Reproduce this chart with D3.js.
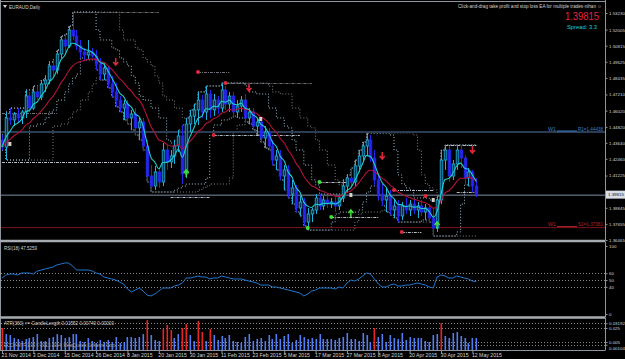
<!DOCTYPE html>
<html>
<head>
<meta charset="utf-8">
<script src="https://cdn.jsdelivr.net/npm/d3@7"></script>
<style>
  html, body { margin: 0; padding: 0; background: #000; overflow: hidden; }
  svg { display: block; font-family: "Liberation Sans", "DejaVu Sans", sans-serif; }
</style>
</head>
<body>
<div id="chart"></div>
<script>
// ---- data ----
const dateLabels = ["21 Nov 2014", "3 Dec 2014", "15 Dec 2014", "26 Dec 2014", "8 Jan 2015", "20 Jan 2015",
  "30 Jan 2015", "11 Feb 2015", "23 Feb 2015", "5 Mar 2015", "17 Mar 2015", "27 Mar 2015",
  "8 Apr 2015", "20 Apr 2015", "30 Apr 2015", "12 May 2015"];
const barsPerLabel = 8;

const opens = [
  1.4385,1.4333,1.4548,1.4533,1.4577,1.4548,1.4592,1.4710,1.4621,1.4740,
  1.4703,1.4799,1.4828,1.4932,1.4902,1.5020,1.5124,1.5079,1.5197,1.5153,
  1.5079,1.5035,1.5013,1.5035,1.5005,1.4946,1.4872,1.4917,1.4799,1.4740,
  1.4680,1.4621,1.4651,1.4548,1.4577,1.4474,1.4518,1.4341,1.4119,1.4045,
  1.4149,1.4075,1.4311,1.4223,1.4267,1.4341,1.4415,1.4134,1.4503,1.4562,
  1.4607,1.4680,1.4592,1.4725,1.4607,1.4680,1.4621,1.4754,1.4651,1.4710,
  1.4592,1.4636,1.4680,1.4548,1.4592,1.4488,1.4518,1.4400,1.4444,1.4341,
  1.4237,1.4267,1.4119,1.4164,1.3986,1.4031,1.3883,1.3927,1.3779,1.3839,
  1.3868,1.3957,1.3898,1.3942,1.3912,1.3927,1.3898,1.3957,1.4045,1.4104,
  1.4075,1.4193,1.4267,1.4341,1.4385,1.4252,1.4090,1.3986,1.3942,1.3971,
  1.3868,1.3898,1.3824,1.3898,1.3868,1.3912,1.3868,1.3898,1.3853,1.3883,
  1.3809,1.3735,1.3942,1.4237,1.4311,1.4119,1.4208,1.4311,1.4252,1.4104,
  1.4149,1.4045
];
const highs = [
  1.4422,1.4592,1.4621,1.4592,1.4621,1.4607,1.4754,1.4740,1.4784,1.4784,
  1.4828,1.4858,1.4961,1.4976,1.5050,1.5153,1.5168,1.5227,1.5330,1.5197,
  1.5124,1.5065,1.5124,1.5065,1.5050,1.4991,1.4961,1.4932,1.4858,1.4806,
  1.4710,1.4680,1.4680,1.4607,1.4621,1.4548,1.4548,1.4385,1.4200,1.4193,
  1.4178,1.4363,1.4348,1.4311,1.4385,1.4459,1.4496,1.4548,1.4607,1.4651,
  1.4740,1.4717,1.4784,1.4754,1.4725,1.4710,1.4806,1.4784,1.4740,1.4740,
  1.4680,1.4710,1.4725,1.4621,1.4621,1.4548,1.4548,1.4488,1.4474,1.4385,
  1.4311,1.4311,1.4200,1.4200,1.4090,1.4053,1.3971,1.3957,1.3883,1.3883,
  1.3986,1.3986,1.3971,1.3971,1.3957,1.3964,1.3971,1.4090,1.4127,1.4178,
  1.4237,1.4311,1.4370,1.4437,1.4422,1.4311,1.4127,1.4060,1.4031,1.4016,
  1.3942,1.3942,1.3927,1.3957,1.3942,1.3942,1.3927,1.3942,1.3912,1.3912,
  1.3883,1.3971,1.4311,1.4348,1.4341,1.4237,1.4348,1.4348,1.4274,1.4178,
  1.4164,1.4104
];
const lows = [
  1.4311,1.4237,1.4496,1.4488,1.4518,1.4503,1.4548,1.4592,1.4607,1.4680,
  1.4680,1.4740,1.4799,1.4843,1.4872,1.4991,1.5035,1.5065,1.5124,1.5050,
  1.4991,1.4976,1.4976,1.4991,1.4902,1.4828,1.4828,1.4769,1.4703,1.4629,
  1.4592,1.4533,1.4503,1.4459,1.4422,1.4385,1.4311,1.4075,1.4001,1.4016,
  1.4031,1.4045,1.4164,1.4178,1.4208,1.4296,1.4060,1.4104,1.4444,1.4503,
  1.4496,1.4548,1.4533,1.4548,1.4562,1.4577,1.4592,1.4607,1.4592,1.4562,
  1.4548,1.4592,1.4518,1.4503,1.4459,1.4422,1.4370,1.4326,1.4311,1.4200,
  1.4164,1.4090,1.4016,1.3957,1.3912,1.3853,1.3824,1.3750,1.3720,1.3779,
  1.3839,1.3868,1.3868,1.3883,1.3883,1.3853,1.3868,1.3927,1.4001,1.4045,
  1.4045,1.4149,1.4223,1.4267,1.4223,1.4053,1.3942,1.3898,1.3853,1.3831,
  1.3809,1.3779,1.3794,1.3839,1.3824,1.3839,1.3809,1.3824,1.3794,1.3779,
  1.3676,1.3706,1.3912,1.4164,1.4075,1.4090,1.4164,1.4178,1.4053,1.4045,
  1.4001,1.3964
];
const closes = [
  1.4333,1.4548,1.4533,1.4577,1.4548,1.4592,1.4710,1.4621,1.4740,1.4703,
  1.4799,1.4828,1.4932,1.4902,1.5020,1.5124,1.5079,1.5197,1.5153,1.5079,
  1.5035,1.5013,1.5035,1.5005,1.4946,1.4872,1.4917,1.4799,1.4740,1.4680,
  1.4621,1.4651,1.4548,1.4577,1.4474,1.4518,1.4341,1.4119,1.4045,1.4149,
  1.4075,1.4311,1.4223,1.4267,1.4341,1.4415,1.4134,1.4503,1.4562,1.4607,
  1.4680,1.4592,1.4725,1.4607,1.4680,1.4621,1.4754,1.4651,1.4710,1.4592,
  1.4636,1.4680,1.4548,1.4592,1.4488,1.4518,1.4400,1.4444,1.4341,1.4237,
  1.4267,1.4119,1.4164,1.3986,1.4031,1.3883,1.3927,1.3779,1.3839,1.3868,
  1.3957,1.3898,1.3942,1.3912,1.3927,1.3898,1.3957,1.4045,1.4104,1.4075,
  1.4193,1.4267,1.4341,1.4385,1.4252,1.4090,1.3986,1.3942,1.3971,1.3868,
  1.3898,1.3824,1.3898,1.3868,1.3912,1.3868,1.3898,1.3853,1.3883,1.3809,
  1.3735,1.3942,1.4237,1.4311,1.4119,1.4208,1.4311,1.4252,1.4104,1.4149,
  1.4045,1.39815
];

const rsiValues = [
  52.9,57.4,58.8,58.8,57.4,60.3,60.3,60.3,58.8,63.2,
  64.7,66.2,67.6,69.1,72.1,73.5,75.0,75.0,70.6,64.7,
  64.7,64.7,64.7,63.2,60.3,58.8,54.4,52.9,51.5,50.0,
  47.1,44.1,36.8,32.4,35.3,38.2,33.8,27.9,26.5,29.4,
  33.8,38.2,38.2,38.2,41.2,42.6,45.6,52.9,52.9,54.4,
  55.9,54.4,54.4,51.5,52.9,52.9,55.9,54.4,52.9,51.5,
  51.5,51.5,50.0,48.5,47.1,45.6,42.6,42.6,42.6,39.7,
  39.7,38.2,36.8,35.3,33.8,32.4,30.9,26.5,29.4,33.8,
  35.3,38.2,38.2,38.2,38.2,36.8,39.7,38.2,45.6,50.0,
  48.5,51.5,55.9,60.3,58.8,51.5,44.1,39.7,39.7,42.6,
  44.1,41.2,41.2,42.6,42.6,44.1,45.6,44.1,42.6,39.7,
  38.2,54.4,57.4,55.9,52.9,52.9,55.9,54.4,52.9,51.5,
  48.5,47.5259
];

const atrValues = [
  0.0250,0.0164,0.0150,0.0107,0.0093,0.0064,0.0093,0.0107,0.0121,0.0164,
  0.0064,0.0064,0.0107,0.0121,0.0164,0.0150,0.0107,0.0121,0.0164,0.0164,
  0.0064,0.0050,0.0107,0.0064,0.0036,0.0079,0.0050,0.0079,0.0050,0.0121,
  0.0036,0.0050,0.0121,0.0121,0.0107,0.0121,0.0164,0.0364,0.0150,0.0079,
  0.0064,0.0236,0.0293,0.0221,0.0107,0.0164,0.0250,0.0307,0.0150,0.0064,
  0.0350,0.0193,0.0064,0.0236,0.0150,0.0079,0.0136,0.0107,0.0150,0.0064,
  0.0050,0.0036,0.0121,0.0164,0.0064,0.0093,0.0107,0.0064,0.0150,0.0093,
  0.0164,0.0093,0.0136,0.0164,0.0036,0.0079,0.0150,0.0121,0.0093,0.0107,
  0.0093,0.0164,0.0093,0.0093,0.0093,0.0079,0.0107,0.0121,0.0179,0.0093,
  0.0093,0.0064,0.0179,0.0150,0.0050,0.0250,0.0121,0.0164,0.0050,0.0150,
  0.0107,0.0093,0.0179,0.0079,0.0121,0.0107,0.0107,0.0107,0.0064,0.0050,
  0.0150,0.0164,0.0321,0.0136,0.0107,0.0179,0.0193,0.0136,0.0107,0.0036,
  0.0107,0.0107
];
// bars the indicator paints red (candle length >= ATR)
const atrRedBars = [0, 37, 41, 42, 43, 46, 47, 50, 51, 53, 95, 112];

const priceTicks = [1.53230, 1.52005, 1.50815, 1.49625, 1.48435, 1.47210, 1.46020, 1.44820,
  1.43640, 1.42460, 1.41225, 1.40035, 1.38845, 1.37655, 1.36465];
const rsiTicks = [100, 60, 50, 40, 0];
const rsiLevels = [60, 50, 40];
const atrTicks = [0.03192, 0.025, 0.005, 0.00104];
const atrTickLabels = ["0.03192", "0.025", "0.005", "0.00104"];
const atrLevels = [0.03192, 0.025, 0.005, 0.00104];

const lastPrice = 1.39815;
const spread = "3.3";
const pivotR1 = 1.44438;
const pivotS1 = 1.37381;

// dash-dot level segments of the channel indicator: [fromBar, toBar, price, kind]
const levelSegments = [
  [18, 40, 1.5330, "dark"],
  [50, 58, 1.4887, "dark"],
  [57, 79, 1.4806, "dark"],
  [0, 14, 1.4584, "dark"],
  [0, 35, 1.4223, "light"],
  [43, 53, 1.3964, "light"],
  [54, 76, 1.4422, "light"],
  [81, 88, 1.4075, "light"],
  [84, 96, 1.3817, "light"],
  [100, 110, 1.4016, "light"],
  [102, 107, 1.3706, "light"],
  [113, 121, 1.4348, "light"],
  [116, 121, 1.4001, "light"]
];
// signal markers: [bar, price, kind]
const markers = [
  [29, 1.4961, "sell"], [63, 1.4769, "sell"], [97, 1.4267, "sell"], [120, 1.4311, "sell"],
  [47, 1.4141, "buy"], [89, 1.3846, "buy"], [111, 1.3757, "buy"],
  [2, 1.4356, "flag"], [66, 1.4540, "flag"], [89, 1.3979, "flag"], [110, 1.3942, "flag"],
  [50, 1.4887, "redDot"], [57, 1.4806, "redDot"], [54, 1.4422, "redDot"], [100, 1.4016, "redDot"],
  [102, 1.3706, "redDot"], [108, 1.3971, "redDot"],
  [81, 1.4075, "greenDot"], [84, 1.3817, "greenDot"], [78, 1.3735, "greenDot"]
];

// ---- layout ----
const W = 625, H = 359;
const axisX = 605;
const mainPanel = { top: 2, bottom: 240 };
const rsiPanel = { top: 242, bottom: 317 };
const atrPanel = { top: 318, bottom: 350 };
const textColor = "#d4d4d4";
const frameColor = "#8f959c";
const fontFamily = "Liberation Sans, DejaVu Sans, sans-serif";
const axisFont = 4.4;

const svg = d3.select("#chart").append("svg")
  .attr("width", W)
  .attr("height", H)
  .style("background", "#000");

const n = closes.length;
const x = d3.scaleLinear().domain([0, n - 1]).range([2, 2 + 3.92 * (n - 1)]);
const y = d3.scaleLinear().domain([1.36465, 1.53230]).range([240, 13]);
const yRsi = d3.scaleLinear().domain([0, 100]).range([314, 246]);
const yAtr = d3.scaleLinear().domain([0, 0.03192]).range([345.5, 323.2]);

const defs = svg.append("defs");
defs.append("clipPath").attr("id", "clip-main")
  .append("rect").attr("x", 1).attr("y", mainPanel.top).attr("width", axisX - 1).attr("height", mainPanel.bottom - mainPanel.top);
defs.append("clipPath").attr("id", "clip-rsi")
  .append("rect").attr("x", 1).attr("y", rsiPanel.top + 1).attr("width", axisX - 1).attr("height", rsiPanel.bottom - rsiPanel.top - 1);
defs.append("clipPath").attr("id", "clip-atr")
  .append("rect").attr("x", 1).attr("y", atrPanel.top + 1).attr("width", axisX - 1).attr("height", atrPanel.bottom - atrPanel.top - 1);

const main = svg.append("g").attr("clip-path", "url(#clip-main)");

// small text helper, squeezed to the width seen in the picture
function label(g, tx, ty, str, size, color, width, anchor) {
  const t = g.append("text").attr("x", tx).attr("y", ty).attr("fill", color)
    .attr("font-size", size).attr("text-anchor", anchor || "start").text(str);
  if (width) t.attr("textLength", width).attr("lengthAdjust", "spacingAndGlyphs");
  return t;
}

// ---- indicator helpers ----
function ema(values, period) {
  const k = 2 / (period + 1);
  const out = [];
  values.forEach((v, i) => out.push(i === 0 ? v : v * k + out[i - 1] * (1 - k)));
  return out;
}
function channel(period) {
  return closes.map((_, i) => {
    const s = Math.max(0, i - period + 1);
    return { i, hi: d3.max(highs.slice(s, i + 1)), lo: d3.min(lows.slice(s, i + 1)) };
  });
}

// channels (dotted steps)
const stepLine = (acc) => d3.line().x(d => x(d.i)).y(d => y(acc(d))).curve(d3.curveStepAfter);
[[channel(12), "#7c8288"], [channel(6), "#9fc0d6"]].forEach(([ch, col]) => {
  ["hi", "lo"].forEach(k => {
    main.append("path").datum(ch)
      .attr("fill", "none").attr("stroke", col).attr("stroke-width", 1)
      .attr("stroke-dasharray", "1,2")
      .attr("d", stepLine(d => d[k]));
  });
});

// full-width pivot lines and bid line
main.append("line").attr("x1", 0).attr("x2", axisX).attr("y1", y(pivotR1)).attr("y2", y(pivotR1))
  .attr("stroke", "#2a3d55").attr("stroke-width", 2);
main.append("line").attr("x1", 0).attr("x2", axisX).attr("y1", y(pivotS1)).attr("y2", y(pivotS1))
  .attr("stroke", "#7a1418").attr("stroke-width", 1);
main.append("line").attr("x1", 0).attr("x2", axisX).attr("y1", y(lastPrice) + 0.5).attr("y2", y(lastPrice) + 0.5)
  .attr("stroke", "#7f8fa6").attr("stroke-width", 1);

// dash-dot levels
main.selectAll("line.level").data(levelSegments).enter().append("line")
  .attr("class", "level")
  .attr("x1", d => x(d[0])).attr("x2", d => x(d[1]))
  .attr("y1", d => Math.round(y(d[2])) + 0.5).attr("y2", d => Math.round(y(d[2])) + 0.5)
  .attr("stroke", d => d[3] === "dark" ? "#6d7177" : "#b4bcc6")
  .attr("stroke-width", 1)
  .attr("stroke-dasharray", "3,1,1,1");

// candles
const candles = main.append("g");
const bodyW = 2.6;
closes.forEach((c, i) => {
  const o = opens[i], bull = c >= o;
  const cx = Math.round(x(i)) + 0.5;
  candles.append("line")
    .attr("x1", cx).attr("x2", cx).attr("y1", y(highs[i])).attr("y2", y(lows[i]))
    .attr("stroke", bull ? "#1fb0dc" : "#2626f0").attr("stroke-width", 1);
  const top = y(Math.max(o, c)), bot = y(Math.min(o, c));
  candles.append("rect")
    .attr("x", cx - bodyW / 2).attr("y", top)
    .attr("width", bodyW).attr("height", Math.max(1, bot - top))
    .attr("fill", bull ? "#0d3550" : "#2626f0")
    .attr("stroke", bull ? "#1fb0dc" : "#2626f0").attr("stroke-width", 0.8);
});

// moving averages
const maLine = d3.line().x((d, i) => x(i)).y(d => y(d)).curve(d3.curveMonotoneX);
main.append("path").datum(ema(closes, 13))
  .attr("fill", "none").attr("stroke", "#b4123c").attr("stroke-width", 1.1).attr("d", maLine);
main.append("path").datum(ema(closes, 5))
  .attr("fill", "none").attr("stroke", "#22cfcf").attr("stroke-width", 1.1).attr("d", maLine);

// markers
const mk = main.append("g");
markers.forEach(([i, p, kind]) => {
  const mx = x(i), my = y(p);
  if (kind === "sell") {
    mk.append("path").attr("d", `M${mx},${my - 4}V${my + 3}M${mx - 2.5},${my}L${mx},${my + 3}L${mx + 2.5},${my}`)
      .attr("stroke", "#e0283a").attr("stroke-width", 1.5).attr("fill", "none");
  } else if (kind === "buy") {
    mk.append("path").attr("d", `M${mx},${my + 4}V${my - 3}M${mx - 2.5},${my}L${mx},${my - 3}L${mx + 2.5},${my}`)
      .attr("stroke", "#3ee03a").attr("stroke-width", 1.5).attr("fill", "none");
  } else if (kind === "flag") {
    mk.append("rect").attr("x", mx - 1.5).attr("y", my - 2).attr("width", 3).attr("height", 4)
      .attr("fill", "#d8d2c8");
  } else {
    mk.append("circle").attr("cx", mx).attr("cy", my).attr("r", 2)
      .attr("fill", kind === "redDot" ? "#e0283a" : "#3ee03a");
  }
});

// pivot labels
const pivotLabel = (p, name, color) => {
  const py = y(p);
  label(svg, 548, py - 1.5, "W1", 5, color, 8);
  svg.append("line").attr("x1", 557).attr("x2", 577).attr("y1", py - 1).attr("y2", py - 1)
    .attr("stroke", color).attr("stroke-width", 1);
  label(svg, 603, py - 1.5, `${name}=${p.toFixed(5)}`, 5, color, 25, "end");
};
pivotLabel(pivotR1, "R1", "#3f7fc6");
pivotLabel(pivotS1, "S1", "#b0242a");

// ---- RSI panel ----
const rsiG = svg.append("g").attr("clip-path", "url(#clip-rsi)");
rsiG.selectAll("line.lvl").data(rsiLevels).enter().append("line")
  .attr("x1", 1).attr("x2", axisX).attr("y1", d => Math.round(yRsi(d)) + 0.5).attr("y2", d => Math.round(yRsi(d)) + 0.5)
  .attr("stroke", "#8a8a8a").attr("stroke-dasharray", "1,2");
rsiG.append("path").datum(rsiValues)
  .attr("fill", "none").attr("stroke", "#1f78d2").attr("stroke-width", 1)
  .attr("d", d3.line().x((d, i) => x(i)).y(d => yRsi(d)));
label(svg, 4, 250, `RSI(18) ${rsiValues[n - 1].toFixed(4)}`, 5, textColor, 33);

// ---- ATR panel ----
const atrG = svg.append("g").attr("clip-path", "url(#clip-atr)");
atrG.selectAll("line.lvl").data(atrLevels).enter().append("line")
  .attr("x1", 1).attr("x2", axisX).attr("y1", d => Math.round(yAtr(d)) + 0.5).attr("y2", d => Math.round(yAtr(d)) + 0.5)
  .attr("stroke", "#8a8a8a").attr("stroke-dasharray", "1,2");
atrG.selectAll("rect.bar").data(atrValues).enter().append("rect")
  .attr("x", (d, i) => Math.round(x(i)) - 0.5)
  .attr("y", d => yAtr(d))
  .attr("width", 1.6)
  .attr("height", d => atrPanel.bottom - yAtr(d))
  .attr("fill", (d, i) => atrRedBars.includes(i) ? "#ea2323" : "#4f7df2");
label(svg, 4, 324.5, "ATR(360) >= CandleLength  0.01552  0.00740  0.00000", 5, textColor, 110);
label(svg, 4, 347, "ECCH MTF 1.02 \u00a9 2013-2014, MetaQuotes Software Corp.", 5, "#9a9a9a", 112);

// ---- frame ----
const frame = svg.append("g").attr("stroke", frameColor).attr("fill", "none");
frame.append("line").attr("x1", 0.5).attr("x2", 0.5).attr("y1", 0).attr("y2", atrPanel.bottom);
frame.append("line").attr("x1", 0).attr("x2", axisX).attr("y1", 1.5).attr("y2", 1.5);
frame.append("line").attr("x1", 0).attr("x2", axisX + 0.5).attr("y1", 241).attr("y2", 241).attr("stroke-width", 2.4).attr("stroke", "#a6acb2");
frame.append("line").attr("x1", 0).attr("x2", axisX + 0.5).attr("y1", 317.5).attr("y2", 317.5).attr("stroke-width", 2.4).attr("stroke", "#a6acb2");
frame.append("line").attr("x1", 0).attr("x2", axisX + 0.5).attr("y1", atrPanel.bottom + 0.5).attr("y2", atrPanel.bottom + 0.5);

// ---- axes ----
function styleAxis(g) {
  g.select(".domain").attr("stroke", frameColor);
  g.selectAll(".tick line").attr("stroke", frameColor);
  g.selectAll(".tick text").attr("fill", textColor).attr("font-size", axisFont)
    .attr("font-family", fontFamily);
}
svg.append("g").attr("transform", `translate(${axisX + 0.5},0)`)
  .call(d3.axisRight(y).tickValues(priceTicks).tickFormat(d3.format(".5f")).tickSize(2).tickPadding(1.5))
  .call(styleAxis)
  .call(g => g.select(".domain").attr("d", `M0,0V${mainPanel.bottom}`));
svg.append("g").attr("transform", `translate(${axisX + 0.5},0)`)
  .call(d3.axisRight(yRsi).tickValues(rsiTicks).tickFormat(d3.format("d")).tickSize(2).tickPadding(1.5))
  .call(styleAxis)
  .call(g => g.select(".domain").attr("d", `M0,${rsiPanel.top}V${rsiPanel.bottom}`));
svg.append("g").attr("transform", `translate(${axisX + 0.5},0)`)
  .call(d3.axisRight(yAtr).tickValues(atrTicks).tickFormat((d, i) => atrTickLabels[i]).tickSize(2).tickPadding(1.5))
  .call(styleAxis)
  .call(g => g.selectAll(".tick").filter(d => d === 0.00104).select("text").attr("dy", "1em"))
  .call(g => g.select(".domain").attr("d", `M0,${atrPanel.top}V${atrPanel.bottom}`));

// date axis
svg.append("g").attr("transform", `translate(0,${atrPanel.bottom + 0.5})`)
  .call(d3.axisBottom(x).tickValues(dateLabels.map((_, k) => k * barsPerLabel))
    .tickFormat((d, k) => dateLabels[k]).tickSize(3).tickPadding(0))
  .call(styleAxis)
  .call(g => g.select(".domain").remove())
  .call(g => g.selectAll(".tick text").attr("font-size", 5.2).attr("text-anchor", "start").attr("dx", -1).attr("dy", "0.6em"));

// current price box
svg.append("rect").attr("x", axisX + 1).attr("y", y(lastPrice) - 4).attr("width", W - axisX - 1).attr("height", 8)
  .attr("fill", "#d9dee6");
label(svg, axisX + 3, y(lastPrice) + 1.8, lastPrice.toFixed(5), axisFont, "#10141c");

// ---- header texts ----
svg.append("path").attr("d", "M3,5L7,5L5,8Z").attr("fill", textColor);
label(svg, 9, 8.5, "EURAUD,Daily", 5.5, textColor, 31);
label(svg, 602, 7.5, "Click-and-drag take profit and stop loss EA for multiple trades-nihan \u263a", 5.2, textColor, 144, "end");
label(svg, 599, 20, lastPrice.toFixed(5), 10.5, "#e8203c", 34, "end");
label(svg, 597, 28.5, `Spread: ${spread}`, 6, "#1ed2d2", 30, "end");
</script>
</body>
</html>
